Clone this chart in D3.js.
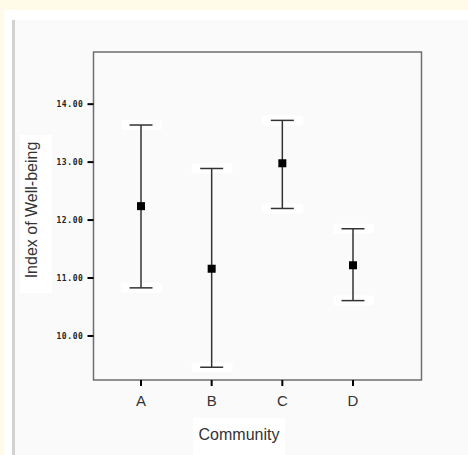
<!DOCTYPE html>
<html>
<head>
<meta charset="utf-8">
<script src="https://cdn.jsdelivr.net/npm/d3@7"></script>
<style>
  body { margin: 0; background: #fffbe8; }
  svg { display: block; }
</style>
</head>
<body>
<svg id="chart" width="468" height="455"></svg>
<script>
// data
const communities = ['A', 'B', 'C', 'D'];
const means = [12.24, 11.16, 12.98, 11.22];
const upper = [13.64, 12.89, 13.72, 11.85];
const lower = [10.83, 9.46, 12.20, 10.61];
const yTicks = [10, 11, 12, 13, 14];

const svg = d3.select('#chart');

// page frame (white strip, grey edge, light panel)
svg.append('rect').attr('x', 4).attr('y', 10).attr('width', 464).attr('height', 445).attr('fill', '#ffffff');
svg.append('rect').attr('x', 12).attr('y', 20).attr('width', 456).attr('height', 435).attr('fill', '#d2d2d2');
svg.append('rect').attr('x', 15).attr('y', 20).attr('width', 453).attr('height', 435).attr('fill', '#fafafa');

const box = {left: 93.5, top: 52, right: 421.5, bottom: 380};

let y = d3.scaleLinear()
    .domain([9.24, 14.9])
    .range([box.bottom, box.top]);

let x = d3.scalePoint()
    .domain(communities)
    .range([141, 353]);

// plot frame
svg.append('rect')
    .attr('x', box.left).attr('y', box.top)
    .attr('width', box.right - box.left).attr('height', box.bottom - box.top)
    .attr('fill', 'none')
    .attr('stroke', '#6e6e6e')
    .attr('stroke-width', 1.5);

// y axis ticks and labels
let yAxis = svg.append('g');
yAxis.selectAll('line')
    .data(yTicks)
    .enter().append('line')
    .attr('x1', box.left - 6).attr('x2', box.left)
    .attr('y1', d => y(d)).attr('y2', d => y(d))
    .attr('stroke', '#000').attr('stroke-width', 2);
yAxis.selectAll('text')
    .data(yTicks)
    .enter().append('text')
    .attr('x', box.left - 10)
    .attr('y', d => y(d) + 3)
    .attr('text-anchor', 'end')
    .style('font-family', 'DejaVu Sans Mono')
    .style('font-weight', 'bold')
    .style('font-size', '8px')
    .style('letter-spacing', '0.6px')
    .attr('fill', '#222')
    .text(d => d3.format('.2f')(d));

// x axis ticks and labels
let xAxis = svg.append('g');
xAxis.selectAll('line')
    .data(communities)
    .enter().append('line')
    .attr('x1', d => x(d)).attr('x2', d => x(d))
    .attr('y1', box.bottom).attr('y2', box.bottom + 6)
    .attr('stroke', '#000').attr('stroke-width', 2);
xAxis.selectAll('text')
    .data(communities)
    .enter().append('text')
    .attr('x', d => x(d))
    .attr('y', 406)
    .attr('text-anchor', 'middle')
    .style('font-family', 'Liberation Sans, Arial')
    .style('font-size', '15px')
    .attr('fill', '#333')
    .text(d => d);

// axis titles
svg.append('rect').attr('x', 20).attr('y', 135).attr('width', 32).attr('height', 158).attr('fill', '#fff');
svg.append('text')
    .attr('transform', 'translate(37, 210) rotate(-90)')
    .attr('text-anchor', 'middle')
    .style('font-family', 'Liberation Sans, Arial')
    .style('font-size', '16px')
    .attr('fill', '#333')
    .text('Index of Well-being');

svg.append('rect').attr('x', 193).attr('y', 418).attr('width', 92).attr('height', 37).attr('fill', '#fff');
svg.append('text')
    .attr('x', 239)
    .attr('y', 440)
    .attr('text-anchor', 'middle')
    .style('font-family', 'Liberation Sans, Arial')
    .style('font-size', '16px')
    .attr('fill', '#333')
    .text('Community');

// error bars
let rows = communities.map((c, i) => ({c: c, mean: means[i], hi: upper[i], lo: lower[i]}));

let bars = svg.selectAll('.bar')
    .data(rows)
    .enter().append('g')
    .classed('bar', true);

// white halos behind caps
bars.selectAll('.halo')
    .data(d => [{c: d.c, v: d.hi}, {c: d.c, v: d.lo}])
    .enter().append('rect')
    .classed('halo', true)
    .attr('x', d => x(d.c) - 20)
    .attr('y', d => y(d.v) - 5)
    .attr('width', 41)
    .attr('height', 10)
    .attr('rx', 3)
    .attr('fill', '#fff');

bars.append('line')
    .attr('x1', d => x(d.c)).attr('x2', d => x(d.c))
    .attr('y1', d => y(d.hi)).attr('y2', d => y(d.lo))
    .attr('stroke', '#333').attr('stroke-width', 1.5);

bars.selectAll('.cap')
    .data(d => [{c: d.c, v: d.hi}, {c: d.c, v: d.lo}])
    .enter().append('line')
    .classed('cap', true)
    .attr('x1', d => x(d.c) - 11.5).attr('x2', d => x(d.c) + 11.5)
    .attr('y1', d => y(d.v)).attr('y2', d => y(d.v))
    .attr('stroke', '#333').attr('stroke-width', 1.5);

bars.append('rect')
    .attr('x', d => x(d.c) - 4)
    .attr('y', d => y(d.mean) - 4)
    .attr('width', 8)
    .attr('height', 8)
    .attr('fill', '#000');
</script>
</body>
</html>
